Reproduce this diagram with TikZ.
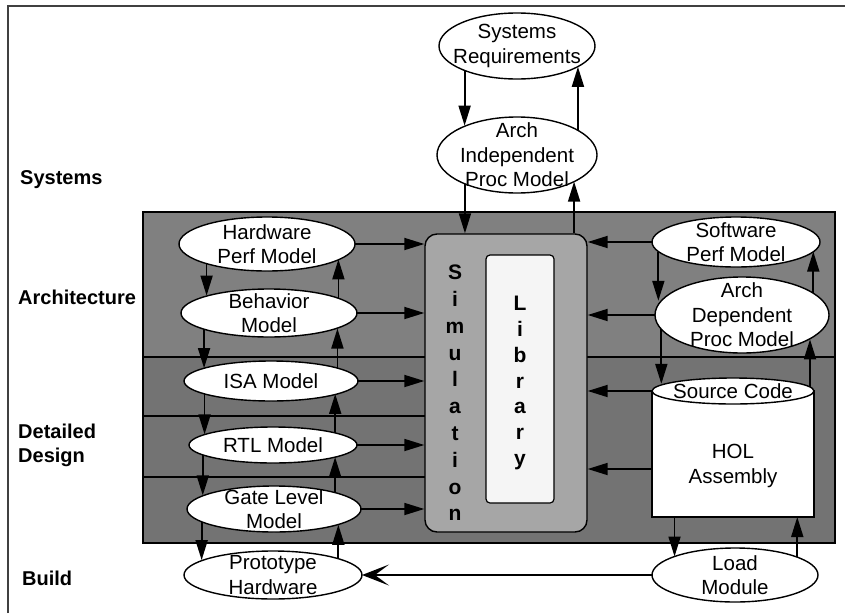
\documentclass[tikz,border=0pt]{standalone}
\usepackage{fontspec}
\setmainfont{Liberation Sans}
\usetikzlibrary{shapes.geometric,arrows.meta,calc}

\definecolor{archband}{gray}{0.50}
\definecolor{detband}{gray}{0.45}
\definecolor{simfill}{gray}{0.65}
\definecolor{libfill}{gray}{0.96}
\definecolor{framecol}{gray}{0.25}

\begin{document}
\begin{tikzpicture}[x=1pt,y=-1pt,
  ell/.style={ellipse, draw=black, line width=1.4pt, fill=white, inner sep=0pt, outer sep=0pt},
  etxt/.style={align=center, inner sep=0pt, font=\fontsize{20.5}{24.5}\selectfont},
  lbl/.style={anchor=west, align=left, inner sep=0pt, font=\fontsize{20}{24}\selectfont\bfseries},
  conn/.style={line width=1.8pt, -{Triangle[length=20pt,width=12pt]}},
  bigtip/.style={line width=1.8pt, -{Stealth[length=27pt,width=21pt,inset=14pt]}},
]
\useasboundingbox (0,0) rectangle (845,613);

% page frame
\draw[framecol, line width=1.2pt] (8,613) -- (8,6) -- (845,6);

% level bands
\fill[archband] (143,212) rectangle (835,357);
\fill[detband] (143,357) rectangle (835,543);
\draw[line width=1.2pt] (143,212) rectangle (835,543);
\draw[line width=1.2pt] (143,357) -- (835,357);
\draw[line width=1.2pt] (143,416) -- (425,416);
\draw[line width=1.2pt] (143,477) -- (425,477);

% level labels
\node[lbl] (l-sys) at (20,180) {Systems};
\node[lbl] (l-arch) at (18,297) {Architecture};
\node[lbl] (l-det) at (18,445) {Detailed\\Design};
\node[lbl] (l-build) at (22,578) {Build};

% simulation / library block
\node[draw, line width=1.4pt, fill=simfill, rounded corners=12pt,
      minimum width=162pt, minimum height=298pt, inner sep=0pt] (sim) at (506,383) {};
\node[draw, line width=1.2pt, fill=libfill, rounded corners=4pt,
      minimum width=68pt, minimum height=248pt, inner sep=0pt] (lib) at (520,379) {};
\node[align=center, inner sep=0pt, font=\fontsize{21}{26.8}\selectfont\bfseries] (sim-t) at (455,393)
  {S\\i\\m\\u\\l\\a\\t\\i\\o\\n};
\node[align=center, inner sep=0pt, font=\fontsize{21}{25.7}\selectfont\bfseries] (lib-t) at (520,383)
  {L\\i\\b\\r\\a\\r\\y};

% systems level
\node[ell, minimum width=156pt, minimum height=66pt] (sr) at (517,46) {};
\node[etxt] (sr-t) at (sr) {Systems\\Requirements};
\node[ell, minimum width=160pt, minimum height=76pt] (aipm) at (517,155) {};
\node[etxt] (aipm-t) at (aipm) {Arch\\Independent\\Proc Model};

% hardware column
\node[ell, minimum width=176pt, minimum height=54pt] (hpm) at (267,244) {};
\node[etxt] (hpm-t) at (hpm) {Hardware\\Perf Model};
\node[ell, minimum width=176pt, minimum height=48pt] (bm) at (269,313) {};
\node[etxt] (bm-t) at (bm) {Behavior\\Model};
\node[ell, minimum width=174pt, minimum height=40pt] (isa) at (271,381) {};
\node[etxt] (isa-t) at (isa) {ISA Model};
\node[ell, minimum width=168pt, minimum height=36pt] (rtl) at (273,445) {};
\node[etxt] (rtl-t) at (rtl) {RTL Model};
\node[ell, minimum width=174pt, minimum height=46pt] (glm) at (274,509) {};
\node[etxt] (glm-t) at (glm) {Gate Level\\Model};
\node[ell, minimum width=178pt, minimum height=48pt] (ph) at (273,575) {};
\node[etxt] (ph-t) at (ph) {Prototype\\Hardware};

% software column
\node[ell, minimum width=168pt, minimum height=50pt] (spm) at (736,242) {};
\node[etxt] (spm-t) at (spm) {Software\\Perf Model};
\node[ell, minimum width=174pt, minimum height=76pt] (adpm) at (742,315) {};
\node[etxt] (adpm-t) at (adpm) {Arch\\Dependent\\Proc Model};
\node[draw, line width=1.4pt, fill=white, minimum width=162pt, minimum height=126pt,
      inner sep=0pt, outer sep=0pt] (body) at (733,454) {};
\node[ell, minimum width=162pt, minimum height=26pt] (sct) at (733,391) {};
\node[etxt] (sct-t) at (sct) {Source Code};
\node[etxt] (body-t) at (733,466) {HOL\\Assembly};
\node[ell, minimum width=166pt, minimum height=54pt] (lm) at (735,575) {};
\node[etxt] (lm-t) at (lm) {Load\\Module};

% systems connectors
\draw[conn] (sr.205.3) -- (sr.205.3 |- aipm.150.9);
\draw[conn] (aipm.22.7) -- (aipm.22.7 |- sr.-19.4);
\draw[conn] (aipm.209.1) -- (aipm.209.1 |- sim.north);
\draw[conn] (aipm.-25.1 |- sim.north) -- (aipm.-25.1);

% hardware column: downward refinement
\draw[conn] (hpm.198.7) -- (hpm.198.7 |- bm.164.2);
\draw[conn] (bm.194) -- (bm.194 |- isa.169.2);
\draw[conn] (isa.191.1) -- (isa.191.1 |- rtl.171.1);
\draw[conn] (rtl.188.1) -- (rtl.188.1 |- glm.169.4);
\draw[conn] (glm.190.2) -- (glm.190.2 |- ph.168.5);
% hardware column: upward feedback
\draw[conn] (bm.12.2) -- (bm.12.2 |- hpm.-12.7);
\draw[conn] (isa.11.9) -- (isa.11.9 |- bm.-13.5);
\draw[conn] (rtl.11.1) -- (rtl.11.1 |- isa.-11.9);
\draw[conn] (glm.15) -- (glm.15 |- rtl.-11.1);
\draw[conn] (ph.14.6) -- (ph.14.6 |- glm.-14.2);

% hardware models into simulation
\foreach \n in {hpm,bm,isa,rtl,glm}
  \draw[conn] (\n.east) -- (\n.east -| sim.west);

% software models into simulation
\foreach \n in {spm,adpm,sct}
  \draw[conn] (\n.west) -- (\n.west -| sim.east);
\draw[conn] ([yshift=-15pt]body.west) -- ([yshift=-15pt]body.west -| sim.east);

% software column verticals
\draw[conn] (spm.187.4) -- (spm.187.4 |- adpm.170);
\draw[conn] (adpm.17.9) -- (adpm.17.9 |- spm.-7.9);
\draw[conn] (adpm.190.6) -- (adpm.190.6 |- sct.174.9);
\draw[conn] (sct.3.7) -- (sct.3.7 |- adpm.-20.6);
\draw[conn] (lm.163.3 |- body.south) -- (lm.163.3);
\draw[conn] (lm.16.7) -- (lm.16.7 |- body.south);

% build
\draw[bigtip] (lm.west) -- (ph.east);
\end{tikzpicture}
\end{document}
